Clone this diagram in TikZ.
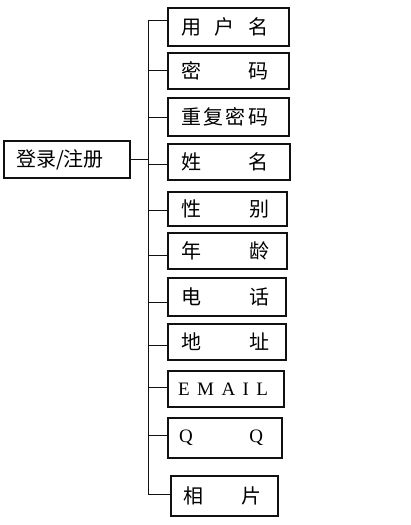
\documentclass[tikz,border=0pt]{standalone}
\usepackage{fontspec}
\usepackage{tikz}
\usetikzlibrary{positioning}
\setmainfont{Noto Sans CJK SC}
\newfontfamily\latinfont{Liberation Serif}
\definecolor{LineDark}{HTML}{111111}
\newcommand{\spreadtext}[2]{\makebox[#1][s]{#2}}

\begin{document}
\begin{tikzpicture}[
  x=1pt, y=-1pt,
  box/.style={draw=LineDark, line width=2.2pt, anchor=north west, inner xsep=0pt, inner ysep=0pt, align=left, font=\fontsize{20}{22}\selectfont},
  item/.style={box},
  latin/.style={font=\latinfont\fontsize{19}{22}\selectfont},
  link/.style={draw=LineDark, line width=1pt}
]
  \useasboundingbox (0,0) rectangle (410,525);

  \node[box, minimum width=126pt, minimum height=37pt, text width=102pt] (login) at (3,140) {\spreadtext{92pt}{登录/注册}};

  \node[item, minimum width=121pt, minimum height=38pt, text width=95pt] (user) at (167,7) {\spreadtext{87pt}{用\hfill 户\hfill 名}};
  \node[item, minimum width=121pt, minimum height=36pt, text width=95pt] (pwd) at (167,52) {\spreadtext{87pt}{密\hfill 码}};
  \node[item, minimum width=121pt, minimum height=38pt, text width=95pt] (repwd) at (167,97) {\spreadtext{87pt}{重\hfill 复\hfill 密\hfill 码}};
  \node[item, minimum width=122pt, minimum height=36pt, text width=96pt] (name) at (167,143) {\spreadtext{87pt}{姓\hfill 名}};
  \node[item, minimum width=119pt, minimum height=34pt, text width=93pt] (sex) at (167,191) {\spreadtext{88pt}{性\hfill 别}};
  \node[item, minimum width=119pt, minimum height=36pt, text width=93pt] (age) at (167,232) {\spreadtext{88pt}{年\hfill 龄}};
  \node[item, minimum width=118pt, minimum height=38pt, text width=92pt] (tel) at (167,277) {\spreadtext{88pt}{电\hfill 话}};
  \node[item, minimum width=118pt, minimum height=36pt, text width=92pt] (addr) at (167,323) {\spreadtext{88pt}{地\hfill 址}};
  \node[item, latin, minimum width=116pt, minimum height=36pt, text width=96pt] (mail) at (167,370) {\spreadtext{90pt}{E\hfill M\hfill A\hfill I\hfill L}};
  \node[item, latin, minimum width=114pt, minimum height=40pt, text width=92pt] (qq) at (167,417) {\spreadtext{84pt}{Q\hfill Q}};
  \node[item, minimum width=107pt, minimum height=40pt, text width=83pt] (photo) at (170,475) {\spreadtext{78pt}{相\hfill 片}};

  % bus
  \coordinate (top) at (148,20);
  \coordinate (bot) at (148,494);
  \draw[link] (top) -- (bot);
  \draw[link] (login.east) -- (login.east -| top);
  \draw[link] (top) -- (top -| user.west);
  \foreach \n/\y in {pwd/70, repwd/117, name/164, sex/210, age/255, tel/302, addr/345, mail/387, qq/435} {
    \draw[link] (148,\y) -- (\n.west |- 0,\y);
  }
  \draw[link] (bot) -- (bot -| photo.west);
\end{tikzpicture}
\end{document}
